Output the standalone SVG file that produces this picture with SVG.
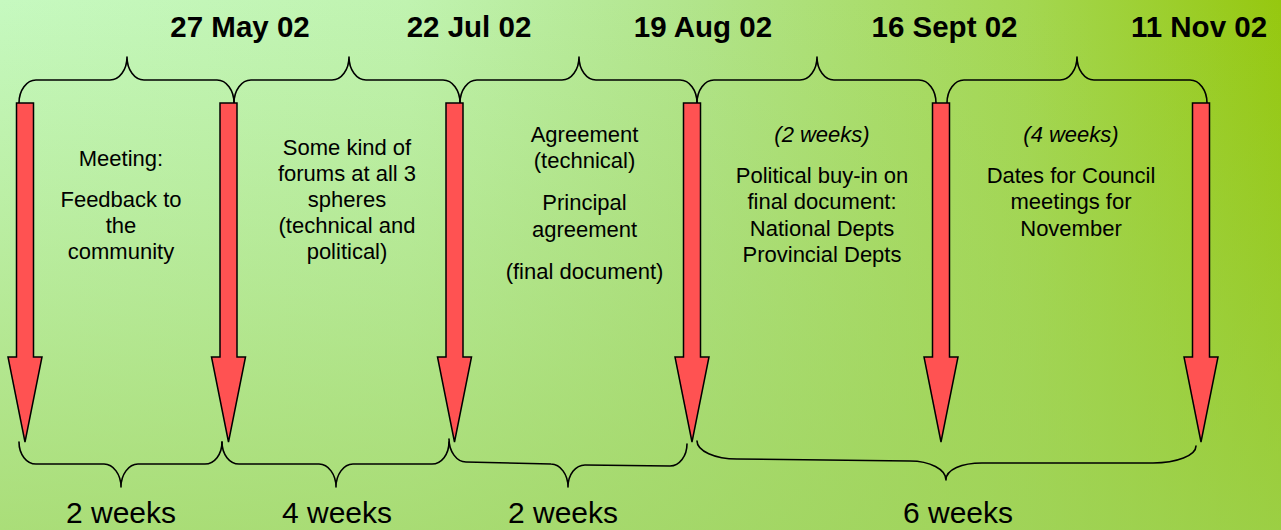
<svg xmlns="http://www.w3.org/2000/svg" xmlns:xlink="http://www.w3.org/1999/xlink" width="1281" height="530" viewBox="0 0 1281 530">
<style>
.date{font-family:"Liberation Sans",Arial,sans-serif;font-weight:bold;font-size:29.5px;fill:#000;text-anchor:middle}
.body{font-family:"Liberation Sans",Arial,sans-serif;font-size:22px;fill:#000;text-anchor:middle}
.it{font-style:italic}
.dur{font-family:"Liberation Sans",Arial,sans-serif;font-size:30px;fill:#000;text-anchor:middle}
.brace{fill:none;stroke:#000;stroke-width:1.6;stroke-linecap:round;stroke-linejoin:round}
.arrow{fill:#ff5252;stroke:#000;stroke-width:1.5;stroke-linejoin:miter}
</style>
<defs>
<linearGradient id="bgH" x1="0" y1="0" x2="1" y2="0">
<stop offset="0" stop-color="#c6f9c0"/>
<stop offset="0.32" stop-color="#c0f3b0"/>
<stop offset="0.55" stop-color="#b1e48a"/>
<stop offset="0.8" stop-color="#a4d752"/>
<stop offset="1" stop-color="#96c80f"/>
</linearGradient>
<linearGradient id="bgV" x1="0" y1="0" x2="0" y2="1">
<stop offset="0" stop-color="#9ed25a" stop-opacity="0"/>
<stop offset="1" stop-color="#9ed25a" stop-opacity="0.7"/>
</linearGradient>
<path id="arrow" class="arrow" d="M-8.5,103 L8.5,103 L8.5,357 L17,357 L0,442 L-17,357 L-8.5,357 Z"/>
</defs>
<rect width="1281" height="530" fill="url(#bgH)"/>
<rect width="1281" height="530" fill="url(#bgV)"/>

<g id="connectors">
<path class="brace" d="M19,103 C19,90.3 26.6,80 36,80 L110,80 C119.4,80 127,69.7 127,57 C127,69.7 134.6,80 144,80 L217,80 C226.4,80 234,90.3 234,103"/>
<path class="brace" d="M234,103 C234,90.3 241.6,80 251,80 L332,80 C341.4,80 349,69.7 349,57 C349,69.7 356.6,80 366,80 L443,80 C452.4,80 460,90.3 460,103"/>
<path class="brace" d="M460,103 C460,90.3 467.6,80 477,80 L562,80 C571.4,80 579,69.7 579,57 C579,69.7 586.6,80 596,80 L680,80 C689.4,80 697,90.3 697,103"/>
<path class="brace" d="M697,103 C697,90.3 704.6,80 714,80 L800,80 C809.4,80 817,69.7 817,57 C817,69.7 824.6,80 834,80 L919,80 C928.4,80 936,90.3 936,103"/>
<path class="brace" d="M947,103 C947,90.3 954.6,80 964,80 L1060,80 C1069.4,80 1077,69.7 1077,57 C1077,69.7 1084.6,80 1094,80 L1190,80 C1199.4,80 1207,90.3 1207,103"/>
<path class="brace" d="M19,442 C19,454.4 26.6,464 36,464 L104,464 C113.4,464 121,474.6 121,487 C121,474.6 128.6,464 138,464 L205,464 C214.4,464 222,454.4 222,442"/>
<path class="brace" d="M222,442 C222,454.4 229.6,464 239,464 L319,464 C328.4,464 336,474.6 336,487 C336,474.6 343.6,464 353,464 L432,464 C441.4,464 449,454.4 449,442"/>
<path class="brace" d="M449,439 C449,451.4 456.6,462 466,462 L551,464 C560.4,464 568,474.6 568,487 C568,474.6 575.6,465 585,465 L670,466 C679.4,466 687,456 687,444"/>
<path class="brace" d="M697,441 C697,450.9 714.9,459 737,459 L910,461 C929.9,461 946,469.5 946,480 C946,469.5 962,463 982,463 L1153,463 C1176.7,463 1196,455.4 1196,446"/>
</g>

<g id="node-start">
<use xlink:href="#arrow" href="#arrow" x="25"/>
</g>
<g id="node-27may">
<text class="date" x="240" y="37">27 May 02</text>
<use xlink:href="#arrow" href="#arrow" x="228.5"/>
</g>
<g id="node-22jul">
<text class="date" x="469" y="37">22 Jul 02</text>
<use xlink:href="#arrow" href="#arrow" x="454.5"/>
</g>
<g id="node-19aug">
<text class="date" x="703" y="37">19 Aug 02</text>
<use xlink:href="#arrow" href="#arrow" x="692"/>
</g>
<g id="node-16sept">
<text class="date" x="944.5" y="37">16 Sept 02</text>
<use xlink:href="#arrow" href="#arrow" x="941"/>
</g>
<g id="node-11nov">
<text class="date" x="1199" y="37">11 Nov 02</text>
<use xlink:href="#arrow" href="#arrow" x="1201"/>
</g>

<g id="node-phase1">
<text class="body" x="121" y="166">Meeting:</text>
<text class="body" x="121" y="207">Feedback to</text>
<text class="body" x="121" y="233">the</text>
<text class="body" x="121" y="259">community</text>
</g>
<g id="node-phase2">
<text class="body" x="347" y="155">Some kind of</text>
<text class="body" x="347" y="181">forums at all 3</text>
<text class="body" x="347" y="207">spheres</text>
<text class="body" x="347" y="233">(technical and</text>
<text class="body" x="347" y="259">political)</text>
</g>
<g id="node-phase3">
<text class="body" x="584.5" y="142">Agreement</text>
<text class="body" x="584.5" y="168">(technical)</text>
<text class="body" x="584.5" y="210">Principal</text>
<text class="body" x="584.5" y="237">agreement</text>
<text class="body" x="584.5" y="279">(final document)</text>
</g>
<g id="node-phase4">
<text class="body it" x="822" y="142">(2 weeks)</text>
<text class="body" x="822" y="183">Political buy-in on</text>
<text class="body" x="822" y="209">final document:</text>
<text class="body" x="822" y="236">National Depts</text>
<text class="body" x="822" y="262">Provincial Depts</text>
</g>
<g id="node-phase5">
<text class="body it" x="1071" y="142">(4 weeks)</text>
<text class="body" x="1071" y="183">Dates for Council</text>
<text class="body" x="1071" y="209">meetings for</text>
<text class="body" x="1071" y="236">November</text>
</g>

<g id="node-durations">
<text class="dur" x="121" y="523">2 weeks</text>
<text class="dur" x="337" y="523">4 weeks</text>
<text class="dur" x="563" y="523">2 weeks</text>
<text class="dur" x="958" y="523">6 weeks</text>
</g>
</svg>
